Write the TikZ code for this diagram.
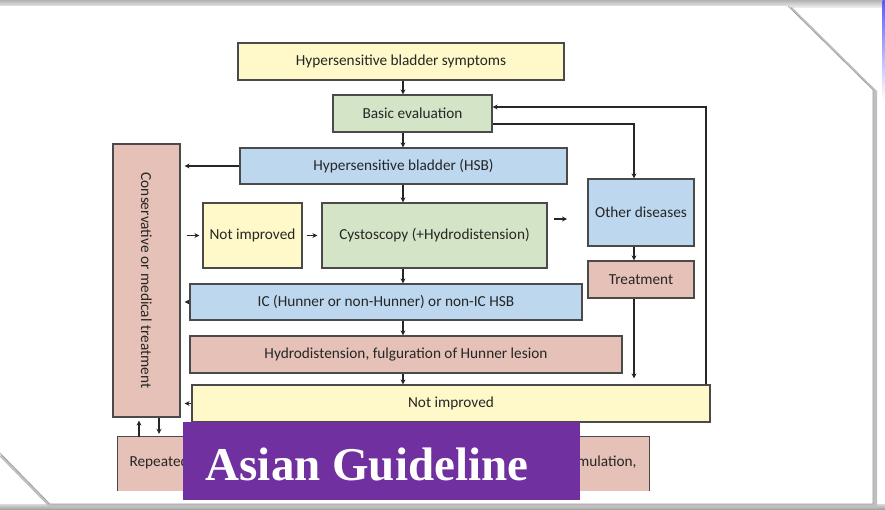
\documentclass[tikz,border=0pt]{standalone}
\usepackage{fontspec}
\usepackage{graphicx}
\usepackage{xcolor}
\usepackage{tikz}
\usetikzlibrary{arrows.meta}

\setmainfont{Carlito}
\newfontfamily\titlefont{Liberation Serif}

\definecolor{hsbyellow}{HTML}{FFF8C8}
\definecolor{hsbgreen}{HTML}{D4E5C7}
\definecolor{hsbblue}{HTML}{BDD7EE}
\definecolor{hsbpink}{HTML}{E5C1B7}
\definecolor{hsbline}{HTML}{4A4A4A}
\definecolor{agpurple}{HTML}{7030A0}

\tikzset{
  box/.style={rectangle, draw=hsbline, line width=1.2pt, text=black!85,
              font=\fontsize{15.3}{17}\selectfont, inner sep=2pt},
  yellowbox/.style={box, fill=hsbyellow},
  greenbox/.style={box, fill=hsbgreen},
  bluebox/.style={box, fill=hsbblue},
  pinkbox/.style={box, fill=hsbpink},
  arr/.style={-{Stealth[length=5pt,width=5pt]}, line width=1.2pt, draw=black!85}
}

\begin{document}
\begin{tikzpicture}[x=1pt, y=-1pt]
\useasboundingbox (0,0) rectangle (885,509);

% slide frame
\fill[white] (0,0) rectangle (885,509);
\shade[top color=black!30, bottom color=black!8] (0,0) rectangle (885,7);
\shade[top color=black!15, bottom color=black!35] (0,504) rectangle (885,509);
\shade[top color=blue!65, bottom color=white] (882.5,0) rectangle (885,100);
\draw[black!25, line width=4pt] (790,8) -- (875,92) -- (875,506) -- (51,506) -- (1,455);
\fill[white] (0,6) -- (788,6) -- (873,90) -- (873,504) -- (50,504) -- (0,453) -- cycle;
\draw[black!40, line width=0.6pt] (788,6) -- (873,90) -- (873,504) -- (50,504) -- (0,453);

\coordinate (spine) at (403,0);
\coordinate (rightline) at (634,0);
\coordinate (loopx) at (706,0);
\coordinate (uparr) at (139,0);
\coordinate (dnarr) at (159,0);
\coordinate (cystoout) at (567,219);

\node[yellowbox, minimum width=326pt, minimum height=37pt] (symp) at (401,61.5) {Hypersensitive bladder symptoms};
\node[greenbox, minimum width=159pt, minimum height=37pt] (basic) at (412.5,113.5) {Basic evaluation};
\node[bluebox, minimum width=327pt, minimum height=36pt] (hsb) at (403.5,166) {Hypersensitive bladder (HSB)};
\node[pinkbox, minimum width=67pt, minimum height=273pt] (cons) at (146.5,280.5) {\rotatebox{-90}{Conservative or medical treatment}};
\node[yellowbox, minimum width=99pt, minimum height=65pt] (notimp1) at (252.5,235.5) {Not improved};
\node[greenbox, minimum width=225pt, minimum height=65pt] (cysto) at (434.5,235.5) {Cystoscopy (+Hydrodistension)};
\node[bluebox, minimum width=106pt, minimum height=67pt] (other) at (641,212.5) {Other diseases};
\node[pinkbox, minimum width=106pt, minimum height=37pt] (treat) at (641,279.5) {Treatment};
\node[bluebox, minimum width=392pt, minimum height=36pt] (ic) at (386,302) {IC (Hunner or non-Hunner) or non-IC HSB};
\node[pinkbox, minimum width=432pt, minimum height=37pt] (hydro) at (406,354.5) {Hydrodistension, fulguration of Hunner lesion};
\node[yellowbox, minimum width=518pt, minimum height=37pt] (notimp2) at (451,403.5) {Not improved};

% bottom box, cut off by the slide
\node[rectangle, fill=hsbpink, minimum width=531pt, minimum height=54pt] (rep) at (383.5,464) {};
\draw[draw=hsbline, line width=1.2pt] (rep.south west) -- (rep.north west) -- (rep.north east) -- (rep.south east);
\node[text=black!85, font=\fontsize{15.3}{17}\selectfont, anchor=west] (reptext) at (126,462) {Repeated};
\node[text=black!85, font=\fontsize{15.3}{17}\selectfont, anchor=east] (stimtext) at (640,462) {mulation,};

\draw[arr] (symp.south -| spine) -- (basic.north -| spine);
\draw[arr] (basic.south -| spine) -- (hsb.north -| spine);
\draw[arr] (hsb.south -| spine) -- (cysto.north -| spine);
\draw[arr] (cysto.south -| spine) -- (ic.north -| spine);
\draw[arr] (ic.south -| spine) -- (hydro.north -| spine);
\draw[arr] (hydro.south -| spine) -- (notimp2.north -| spine);

\draw[arr, shorten >=4pt] (hsb.west) -- (hsb.west -| cons.east);
\draw[arr, shorten >=4pt] (ic.west) -- (ic.west -| cons.east);
\draw[arr, shorten >=4pt] (notimp2.west) -- (notimp2.west -| cons.east);
\draw[arr, shorten <=6pt, shorten >=3pt] (cons.east |- notimp1.west) -- (notimp1.west);
\draw[arr, shorten <=4pt, shorten >=4pt] (notimp1.east) -- (cysto.west);
\draw[arr, shorten <=6pt] ([yshift=16.5pt]cysto.east) -- (cystoout);

\draw[arr] ([yshift=-10.5pt]basic.east) -| (other.north -| rightline);
\draw[arr] (other.south -| rightline) -- (treat.north -| rightline);
\draw[arr, shorten >=6pt] (treat.south -| rightline) -- (notimp2.north -| rightline);
\draw[arr] (notimp2.north -| loopx) |- ([yshift=6.5pt]basic.east);

\draw[arr, shorten >=3pt] (rep.north -| uparr) -- (cons.south -| uparr);
\draw[arr, shorten >=3pt] (cons.south -| dnarr) -- (rep.north -| dnarr);

% title banner
\node[rectangle, fill=agpurple, minimum width=397pt, minimum height=78pt] (banner) at (381.5,461) {};
\node[text=white, font=\titlefont\bfseries\fontsize{47}{50}\selectfont] (title) at (367,464) {Asian Guideline};
\end{tikzpicture}
\end{document}
